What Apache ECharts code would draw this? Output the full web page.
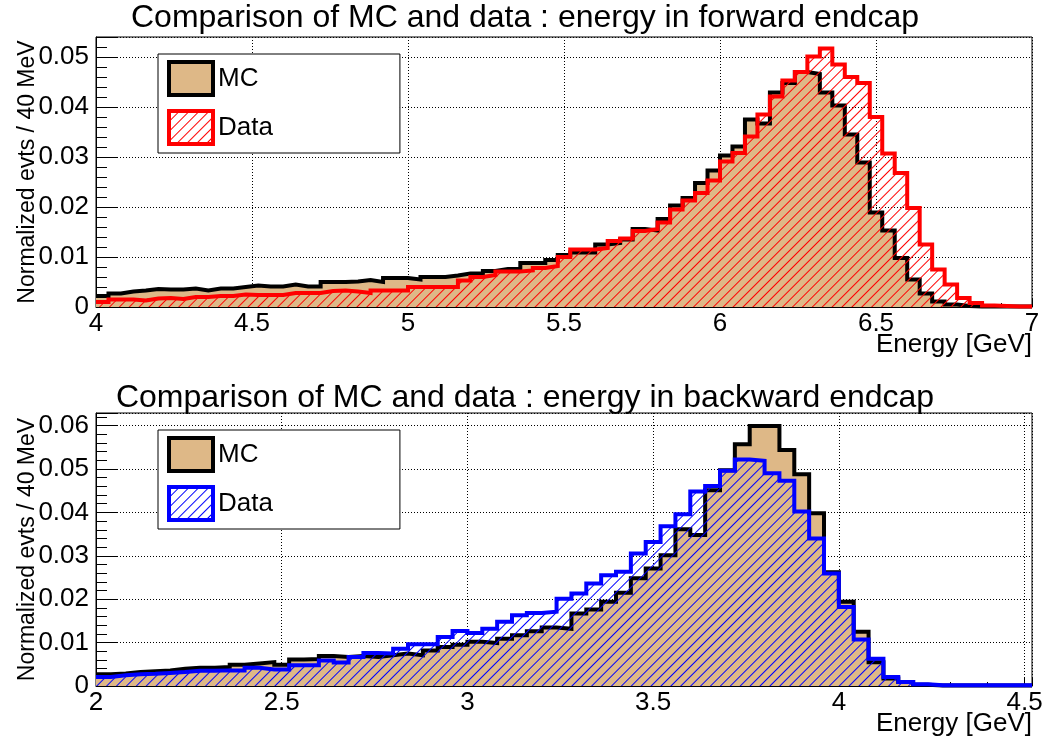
<!DOCTYPE html>
<html lang="en">
<head>
    <meta charset="UTF-8">
    <title>MC vs data</title>
    <style>
        html, body { margin: 0; padding: 0; background: #fff; }
        .chart { width: 1043px; height: 740px; }
    </style>
</head>
<body>
    <div class="chart"></div>
    <script src="https://cdn.jsdelivr.net/npm/echarts@6/dist/echarts.min.js"></script>
    <script>
        // bin contents, 40 MeV bins
        const BIN = 0.04
        const fwdStart = 4
        const bwdStart = 2

        const fwdMC = [
            0.0022, 0.0027, 0.0031, 0.0033, 0.0036, 0.0035, 0.0035, 0.0037, 0.0033, 0.0037,
            0.0037, 0.0040, 0.0043, 0.0041, 0.0041, 0.0045, 0.0041, 0.0041, 0.0050, 0.0050,
            0.0051, 0.0054, 0.0050, 0.0058, 0.0058, 0.0055, 0.0060, 0.0060, 0.0063, 0.0067,
            0.0067, 0.0072, 0.0076, 0.0076, 0.0088, 0.0088, 0.0094, 0.0104, 0.0109, 0.0109,
            0.0125, 0.0128, 0.0135, 0.0156, 0.0153, 0.0176, 0.0203, 0.0218, 0.0248, 0.0273,
            0.0303, 0.0321, 0.0375, 0.0367, 0.0429, 0.0448, 0.0470, 0.0466, 0.0429, 0.0403,
            0.0345, 0.0289, 0.0189, 0.0153, 0.0098, 0.0055, 0.0027, 0.0011, 0.0005, 0.0002,
            0.0001, 0.0001, 0.0001, 0.0001, 0.0001
        ]
        const fwdData = [
            0.0010, 0.0015, 0.0015, 0.0013, 0.0017, 0.0018, 0.0016, 0.0020, 0.0020, 0.0022,
            0.0022, 0.0025, 0.0024, 0.0024, 0.0024, 0.0028, 0.0028, 0.0028, 0.0032, 0.0033,
            0.0031, 0.0028, 0.0033, 0.0033, 0.0033, 0.0040, 0.0040, 0.0040, 0.0040, 0.0053,
            0.0060, 0.0064, 0.0071, 0.0071, 0.0073, 0.0078, 0.0082, 0.0100, 0.0115, 0.0115,
            0.0118, 0.0132, 0.0137, 0.0152, 0.0156, 0.0169, 0.0195, 0.0213, 0.0228, 0.0253,
            0.0291, 0.0308, 0.0341, 0.0385, 0.0421, 0.0453, 0.0470, 0.0501, 0.0517, 0.0485,
            0.0460, 0.0448, 0.0380, 0.0307, 0.0268, 0.0198, 0.0125, 0.0075, 0.0045, 0.0018,
            0.0008, 0.0003, 0.0002, 0.0001, 0.0001
        ]
        const bwdMC = [
            0.0027, 0.0029, 0.0032, 0.0034, 0.0036, 0.0040, 0.0042, 0.0042, 0.0044, 0.0049,
            0.0052, 0.0055, 0.0049, 0.0061, 0.0062, 0.0069, 0.0067, 0.0069, 0.0067, 0.0071,
            0.0075, 0.0071, 0.0082, 0.0090, 0.0095, 0.0102, 0.0099, 0.0109, 0.0117, 0.0126,
            0.0135, 0.0132, 0.0167, 0.0176, 0.0194, 0.0215, 0.0248, 0.0271, 0.0301, 0.0361,
            0.0348, 0.0451, 0.0497, 0.0557, 0.0599, 0.0599, 0.0544, 0.0488, 0.0398, 0.0262,
            0.0194, 0.0125, 0.0055, 0.0017, 0.0009, 0.0003, 0.0001, 0.0001, 0.0001, 0.0001,
            0.0001, 0.0001, 0.0001
        ]
        const bwdData = [
            0.0021, 0.0025, 0.0027, 0.0028, 0.0030, 0.0032, 0.0035, 0.0035, 0.0036, 0.0036,
            0.0042, 0.0038, 0.0038, 0.0048, 0.0048, 0.0059, 0.0054, 0.0067, 0.0076, 0.0075,
            0.0086, 0.0096, 0.0096, 0.0113, 0.0127, 0.0122, 0.0132, 0.0148, 0.0163, 0.0168,
            0.0171, 0.0201, 0.0213, 0.0236, 0.0255, 0.0263, 0.0305, 0.0332, 0.0368, 0.0396,
            0.0448, 0.0461, 0.0496, 0.0522, 0.0519, 0.0490, 0.0473, 0.0402, 0.0340, 0.0259,
            0.0182, 0.0107, 0.0063, 0.0021, 0.0009, 0.0004, 0.0002, 0.0002, 0.0002, 0.0002,
            0.0002, 0.0002, 0.0002
        ]

        const FONT = 'Liberation Sans'
        const TAN = '#deb887'

        // points at the left edge of every bin, plus the closing right edge
        function steps (start, vals) {
            const pts = vals.map((v, i) => [+(start + i * BIN).toFixed(2), v])
            pts.push([+(start + vals.length * BIN).toFixed(2), vals[vals.length - 1]])
            return pts
        }

        // ROOT-like "////" hatch done with echarts decal
        function hatch (color) {
            return {
                symbol: 'rect', symbolSize: 1, color, backgroundColor: 'rgba(0,0,0,0)',
                dashArrayX: [1, 0], dashArrayY: [1, 6], rotation: -Math.PI / 4
            }
        }

        const grids = [
            { left: 96, right: 11, top: 37, height: 270 },
            { left: 96, right: 11, top: 413, height: 273 }
        ]

        function xAxis (idx, min, max) {
            return {
                type: 'value', gridIndex: idx, min, max, interval: 0.5,
                name: 'Energy [GeV]', nameLocation: 'end', nameGap: 0, nameMoveOverlap: false,
                nameTextStyle: { fontFamily: FONT, fontSize: 26, color: '#000', align: 'right', verticalAlign: 'top', padding: [25, 0, 0, 0] },
                axisLine: { show: true, onZero: false, lineStyle: { color: '#000', width: 1 } },
                axisTick: { show: true, inside: true, length: 8, lineStyle: { color: '#000' } },
                minorTick: { show: true, splitNumber: 5, length: 4, lineStyle: { color: '#000' } },
                axisLabel: {
                    fontFamily: FONT, fontSize: 26, color: '#000', margin: 4, showMaxLabel: max === 7,
                    formatter: v => String(+v.toFixed(1))
                },
                splitLine: { show: true, lineStyle: { color: '#000', width: 1, type: [1, 2] } }
            }
        }

        function yAxis (idx, max) {
            return {
                type: 'value', gridIndex: idx, min: 0, max, interval: 0.01,
                name: 'Normalized evts / 40 MeV', nameLocation: 'middle', nameGap: 57, nameMoveOverlap: false,
                nameTextStyle: { fontFamily: FONT, fontSize: 23, color: '#000' },
                axisLine: { show: true, lineStyle: { color: '#000', width: 1 } },
                axisTick: { show: true, inside: true, length: 22, lineStyle: { color: '#000' } },
                minorTick: { show: true, splitNumber: 5, length: 11, lineStyle: { color: '#000' } },
                axisLabel: {
                    fontFamily: FONT, fontSize: 26, color: '#000', margin: 7, showMaxLabel: false,
                    formatter: v => v === 0 ? '0' : v.toFixed(2)
                },
                splitLine: { show: true, lineStyle: { color: '#000', width: 1, type: [1, 2] } }
            }
        }

        function histo (name, idx, start, vals, lineColor, area, z, decal) {
            return {
                name, type: 'line', xAxisIndex: idx, yAxisIndex: idx,
                step: 'end', data: steps(start, vals),
                symbol: 'none', showSymbol: false, z,
                lineStyle: { color: lineColor, width: 4, join: 'miter' },
                itemStyle: decal ? { color: lineColor, decal } : { color: lineColor },
                areaStyle: { color: area, opacity: 1 }
            }
        }

        function legend (top, names, dataColor) {
            return {
                left: 158, top, orient: 'vertical', icon: 'rect',
                padding: [6, 127, 7, 9], itemGap: 12, itemWidth: 44, itemHeight: 33,
                backgroundColor: '#fff', borderColor: '#000', borderWidth: 1, borderRadius: 0,
                selectedMode: false,
                textStyle: { fontFamily: FONT, fontSize: 26, color: '#000' },
                formatter: n => n.split('#')[0],
                data: [
                    { name: names[0], itemStyle: { color: TAN, borderColor: '#000', borderWidth: 4 } },
                    { name: names[1], itemStyle: { color: '#fff', borderColor: dataColor, borderWidth: 4 } }
                ]
            }
        }

        const chart = echarts.init(document.querySelector('.chart'))
        chart.setOption({
            animation: false,
            backgroundColor: '#fff',
            title: [
                { text: 'Comparison of MC and data : energy in forward endcap', left: 525, top: 2, textAlign: 'center', padding: 0,
                  textStyle: { fontFamily: FONT, fontSize: 32, fontWeight: 'normal', color: '#000' } },
                { text: 'Comparison of MC and data : energy in backward endcap', left: 525, top: 382, textAlign: 'center', padding: 0,
                  textStyle: { fontFamily: FONT, fontSize: 32, fontWeight: 'normal', color: '#000' } }
            ],
            legend: [
                legend(54, ['MC#f', 'Data#f'], '#ff0000'),
                legend(430, ['MC#b', 'Data#b'], '#0000ff')
            ],
            grid: grids.map(g => Object.assign({ show: true, borderColor: '#000', borderWidth: 1, outerBoundsMode: 'none', containLabel: false }, g)),
            xAxis: [xAxis(0, fwdStart, 7), xAxis(1, bwdStart, 4.52)],
            yAxis: [yAxis(0, 0.054), yAxis(1, 0.0629)],
            series: [
                histo('MC#f', 0, fwdStart, fwdMC, '#000', TAN, 2),
                histo('Data#f', 0, fwdStart, fwdData, '#ff0000', 'rgba(0,0,0,0)', 3, hatch('#ff0000')),
                histo('MC#b', 1, bwdStart, bwdMC, '#000', TAN, 2),
                histo('Data#b', 1, bwdStart, bwdData, '#0000ff', 'rgba(0,0,0,0)', 3, hatch('#0000ff'))
            ]
        })
    </script>
</body>
</html>
